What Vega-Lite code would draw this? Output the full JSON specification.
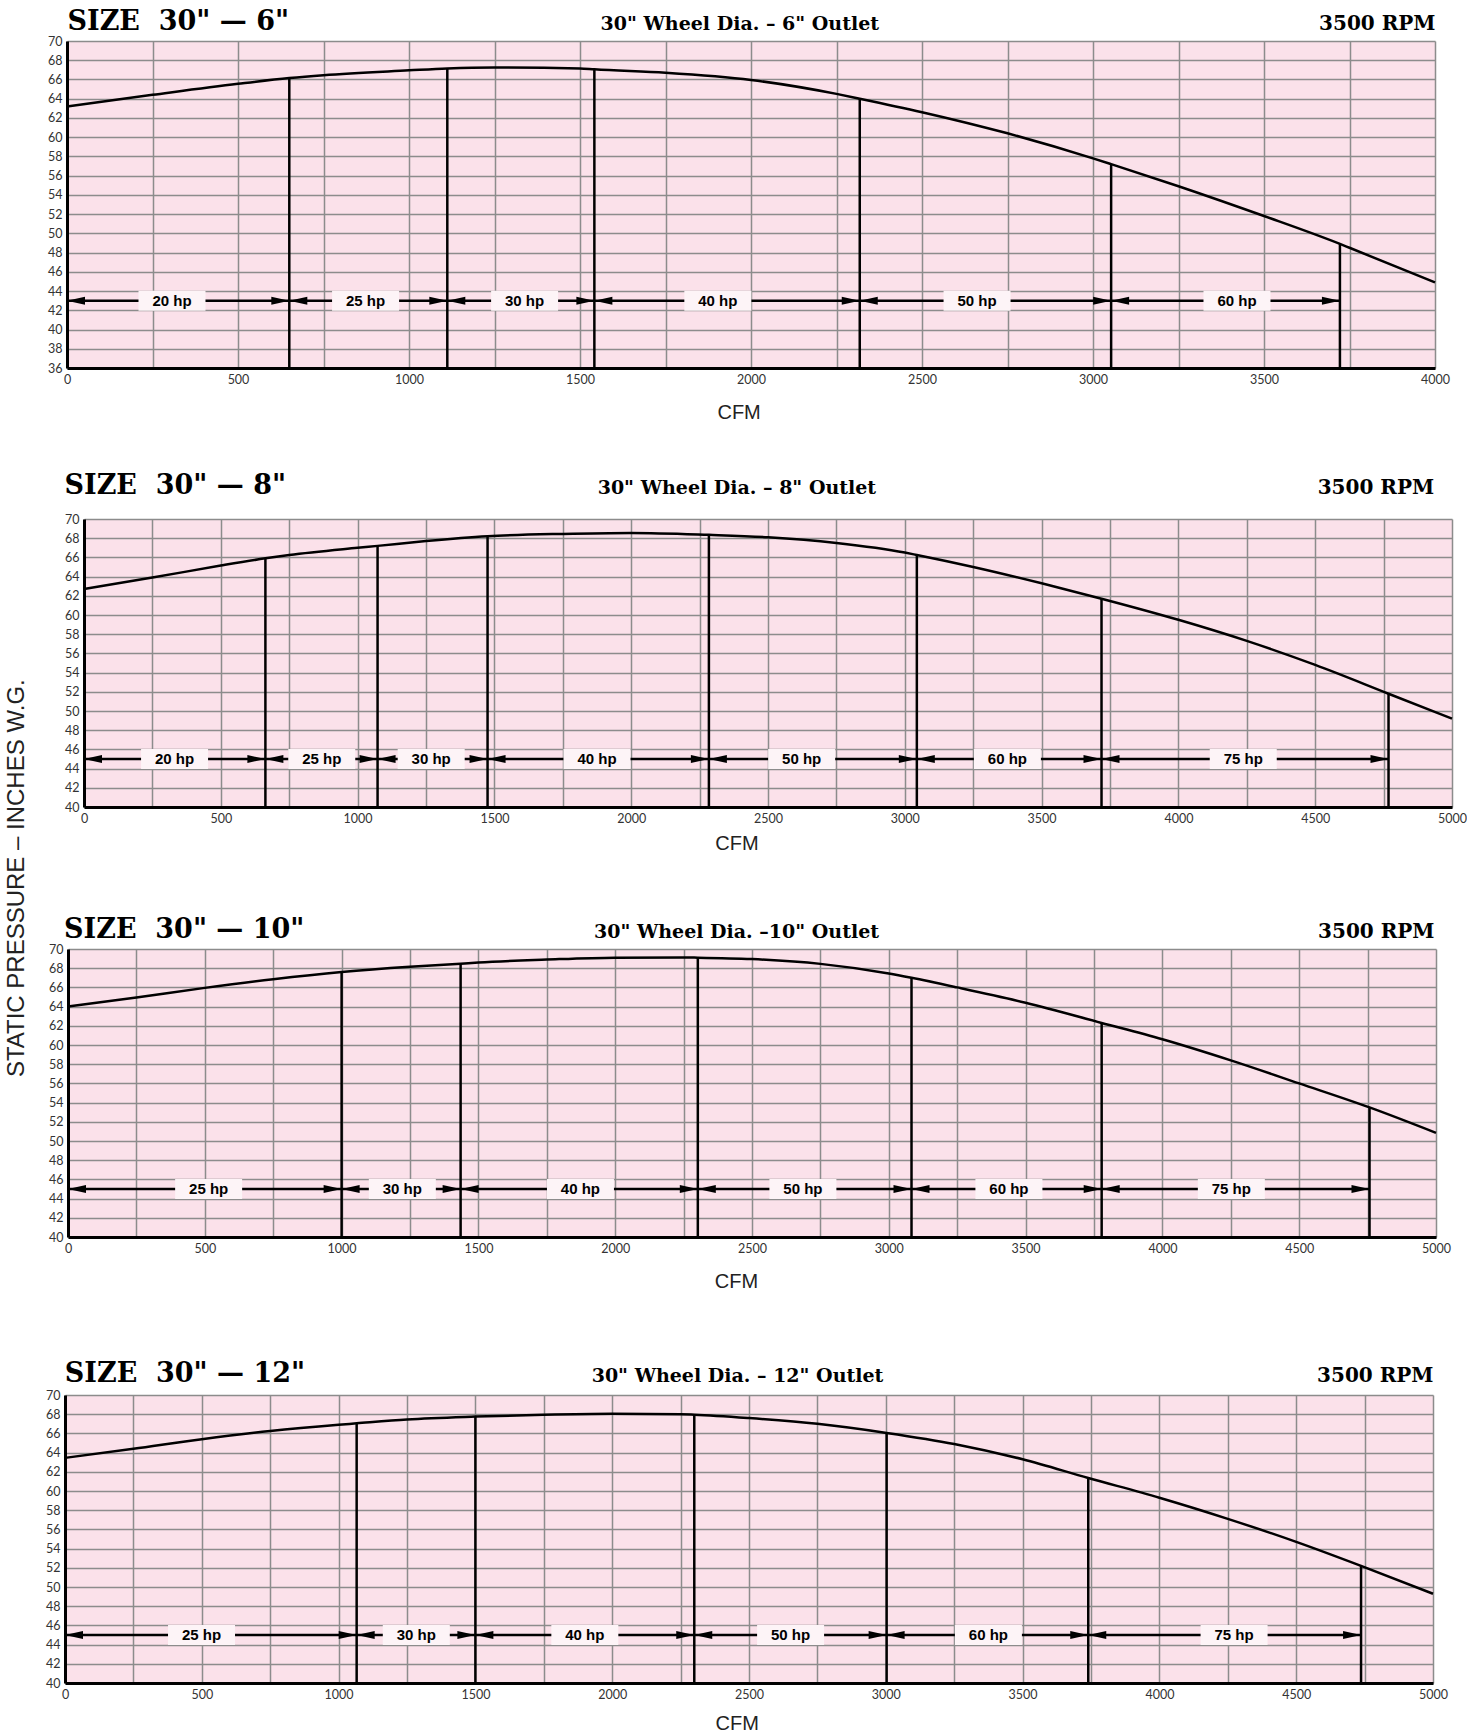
{
  "$schema": "https://vega.github.io/schema/vega-lite/v6.json",
  "background": "white",
  "padding": {"left": 4, "top": 0, "right": 0, "bottom": 0},
  "title": {"text": "STATIC PRESSURE – INCHES W.G.", "orient": "left", "anchor": "middle", "font": "Liberation Sans", "fontSize": 24, "fontWeight": "normal", "color": "#222222", "offset": 13},
  "spacing": 0,
  "datasets": {
    "c1": [{"cfm":0,"sp":63.2},{"cfm":250,"sp":64.4},{"cfm":500,"sp":65.55},{"cfm":650,"sp":66.15},{"cfm":750,"sp":66.45},{"cfm":1000,"sp":66.95},{"cfm":1112,"sp":67.15},{"cfm":1250,"sp":67.25},{"cfm":1500,"sp":67.15},{"cfm":1542,"sp":67.05},{"cfm":1750,"sp":66.7},{"cfm":2000,"sp":65.95},{"cfm":2250,"sp":64.5},{"cfm":2318,"sp":64.0},{"cfm":2500,"sp":62.6},{"cfm":2750,"sp":60.4},{"cfm":3000,"sp":57.8},{"cfm":3053,"sp":57.2},{"cfm":3250,"sp":54.9},{"cfm":3500,"sp":51.8},{"cfm":3722,"sp":48.9},{"cfm":3750,"sp":48.5},{"cfm":4000,"sp":44.9}],
    "r1": [{"cfm":650,"sp":66.15},{"cfm":1112,"sp":67.15},{"cfm":1542,"sp":67.05},{"cfm":2318,"sp":64.0},{"cfm":3053,"sp":57.2},{"cfm":3722,"sp":48.9}],
    "a1": [{"from":0,"to":650,"hp":"20 hp","lx":307},{"from":650,"to":1112,"hp":"25 hp","lx":873},{"from":1112,"to":1542,"hp":"30 hp","lx":1338},{"from":1542,"to":2318,"hp":"40 hp","lx":1903},{"from":2318,"to":3053,"hp":"50 hp","lx":2661},{"from":3053,"to":3722,"hp":"60 hp","lx":3421}],
    "c2": [{"cfm":0,"sp":62.7},{"cfm":250,"sp":63.9},{"cfm":500,"sp":65.15},{"cfm":663,"sp":65.9},{"cfm":750,"sp":66.25},{"cfm":1000,"sp":67.0},{"cfm":1073,"sp":67.2},{"cfm":1250,"sp":67.7},{"cfm":1475,"sp":68.2},{"cfm":1750,"sp":68.45},{"cfm":2000,"sp":68.55},{"cfm":2284,"sp":68.35},{"cfm":2500,"sp":68.1},{"cfm":2750,"sp":67.5},{"cfm":3000,"sp":66.5},{"cfm":3044,"sp":66.25},{"cfm":3250,"sp":65.0},{"cfm":3500,"sp":63.3},{"cfm":3719,"sp":61.7},{"cfm":4000,"sp":59.5},{"cfm":4250,"sp":57.3},{"cfm":4500,"sp":54.8},{"cfm":4768,"sp":51.8},{"cfm":5000,"sp":49.2}],
    "r2": [{"cfm":663,"sp":65.9},{"cfm":1073,"sp":67.2},{"cfm":1475,"sp":68.2},{"cfm":2284,"sp":68.35},{"cfm":3044,"sp":66.25},{"cfm":3719,"sp":61.7},{"cfm":4768,"sp":51.8}],
    "a2": [{"from":0,"to":663,"hp":"20 hp","lx":331},{"from":663,"to":1073,"hp":"25 hp","lx":869},{"from":1073,"to":1475,"hp":"30 hp","lx":1269},{"from":1475,"to":2284,"hp":"40 hp","lx":1875},{"from":2284,"to":3044,"hp":"50 hp","lx":2623},{"from":3044,"to":3719,"hp":"60 hp","lx":3375},{"from":3719,"to":4768,"hp":"75 hp","lx":4237}],
    "c3": [{"cfm":0,"sp":64.0},{"cfm":250,"sp":64.95},{"cfm":500,"sp":65.95},{"cfm":750,"sp":66.85},{"cfm":1000,"sp":67.6},{"cfm":1250,"sp":68.15},{"cfm":1435,"sp":68.47},{"cfm":1500,"sp":68.6},{"cfm":1750,"sp":68.9},{"cfm":2000,"sp":69.1},{"cfm":2250,"sp":69.12},{"cfm":2302,"sp":69.1},{"cfm":2500,"sp":68.95},{"cfm":2750,"sp":68.45},{"cfm":3000,"sp":67.45},{"cfm":3083,"sp":67.0},{"cfm":3250,"sp":66.0},{"cfm":3500,"sp":64.4},{"cfm":3778,"sp":62.3},{"cfm":4000,"sp":60.6},{"cfm":4250,"sp":58.4},{"cfm":4500,"sp":56.0},{"cfm":4757,"sp":53.5},{"cfm":5000,"sp":50.85}],
    "r3": [{"cfm":1000,"sp":67.6},{"cfm":1435,"sp":68.47},{"cfm":2302,"sp":69.1},{"cfm":3083,"sp":67.0},{"cfm":3778,"sp":62.3},{"cfm":4757,"sp":53.5}],
    "a3": [{"from":0,"to":1000,"hp":"25 hp","lx":514},{"from":1000,"to":1435,"hp":"30 hp","lx":1222},{"from":1435,"to":2302,"hp":"40 hp","lx":1873},{"from":2302,"to":3083,"hp":"50 hp","lx":2686},{"from":3083,"to":3778,"hp":"60 hp","lx":3439},{"from":3778,"to":4757,"hp":"75 hp","lx":4252}],
    "c4": [{"cfm":0,"sp":63.45},{"cfm":250,"sp":64.4},{"cfm":500,"sp":65.4},{"cfm":750,"sp":66.25},{"cfm":1000,"sp":66.9},{"cfm":1066,"sp":67.05},{"cfm":1250,"sp":67.45},{"cfm":1500,"sp":67.75},{"cfm":1750,"sp":67.95},{"cfm":2000,"sp":68.05},{"cfm":2250,"sp":68.0},{"cfm":2300,"sp":67.95},{"cfm":2500,"sp":67.6},{"cfm":2750,"sp":67.0},{"cfm":3003,"sp":66.05},{"cfm":3250,"sp":64.9},{"cfm":3500,"sp":63.3},{"cfm":3740,"sp":61.35},{"cfm":4000,"sp":59.3},{"cfm":4250,"sp":57.1},{"cfm":4500,"sp":54.7},{"cfm":4737,"sp":52.2},{"cfm":5000,"sp":49.3}],
    "r4": [{"cfm":1066,"sp":67.05},{"cfm":1500,"sp":67.75},{"cfm":2300,"sp":67.95},{"cfm":3003,"sp":66.05},{"cfm":3740,"sp":61.35},{"cfm":4737,"sp":52.2}],
    "a4": [{"from":0,"to":1066,"hp":"25 hp","lx":499},{"from":1066,"to":1500,"hp":"30 hp","lx":1284},{"from":1500,"to":2300,"hp":"40 hp","lx":1900},{"from":2300,"to":3003,"hp":"50 hp","lx":2652},{"from":3003,"to":3740,"hp":"60 hp","lx":3375},{"from":3740,"to":4737,"hp":"75 hp","lx":4273}]
  },
  "vconcat": [
    {"spacing": 0, "hconcat": [
      {"width": 4.9, "height": 1, "view": {"fill": null, "stroke": null}, "data": {"values": []}, "mark": {"type": "point", "opacity": 0}, "encoding": {}},
      {
      "width": 1368, "height": 327,
      "layer": [
        {"data": {"name": "c1"}, "mark": {"type": "line", "color": "black", "strokeWidth": 2.5, "interpolate": "monotone"},
         "encoding": {
           "x": {"field": "cfm", "type": "quantitative", "scale": {"domain": [0, 4000], "nice": false, "zero": false},
             "axis": {"orient": "bottom", "values": [0,250,500,750,1000,1250,1500,1750,2000,2250,2500,2750,3000,3250,3500,3750,4000], "format": "d", "labelExpr": "datum.value % 500 === 0 ? datum.label : ''", "grid": true, "title": "CFM", "titleFont": "Liberation Sans", "titleFontSize": 20, "titleFontWeight": "normal", "titleColor": "#222222", "titleAlign": "center", "titleX": 671.6, "titleY": 50.6, "minExtent": 90.1, "maxExtent": 90.1}},
           "y": {"field": "sp", "type": "quantitative", "scale": {"domain": [36, 70], "nice": false, "zero": false},
             "axis": {"orient": "left", "values": [36,38,40,42,44,46,48,50,52,54,56,58,60,62,64,66,68,70], "format": "d", "grid": true, "title": "SIZE\u00a0\u00a030\" — 6\"", "titleAlign": "left", "titleX": 0, "titleY": -11.4, "minExtent": 20, "maxExtent": 20}}
         }},
        {"data": {"name": "r1"}, "mark": {"type": "rule", "color": "black", "strokeWidth": 2.5},
         "encoding": {"x": {"field": "cfm", "type": "quantitative", "axis": null}, "y": {"field": "sp", "type": "quantitative", "axis": null}, "y2": {"datum": 36}}},
        {"data": {"name": "a1"}, "mark": {"type": "rule", "color": "black", "strokeWidth": 2.5},
         "encoding": {"x": {"field": "from", "type": "quantitative", "axis": null}, "x2": {"field": "to"}, "y": {"datum": 43, "type": "quantitative", "axis": null}}},
        {"data": {"name": "a1"}, "mark": {"type": "point", "shape": "M0,0L1,-0.22L1,0.22Z", "size": 1296, "filled": true, "color": "black", "opacity": 1, "strokeWidth": 0},
         "encoding": {"x": {"field": "from", "type": "quantitative", "axis": null}, "y": {"datum": 43, "type": "quantitative", "axis": null}}},
        {"data": {"name": "a1"}, "mark": {"type": "point", "shape": "M0,0L-1,-0.22L-1,0.22Z", "size": 1296, "filled": true, "color": "black", "opacity": 1, "strokeWidth": 0},
         "encoding": {"x": {"field": "to", "type": "quantitative", "axis": null}, "y": {"datum": 43, "type": "quantitative", "axis": null}}},
        {"data": {"name": "a1"}, "mark": {"type": "point", "shape": "M-1,-0.3L1,-0.3L1,0.3L-1,0.3Z", "size": 4489, "filled": true, "color": "#fdf4f7", "opacity": 1, "strokeWidth": 0},
         "encoding": {"x": {"field": "lx", "type": "quantitative", "axis": null}, "y": {"datum": 43, "type": "quantitative", "axis": null}}},
        {"data": {"name": "a1"}, "mark": {"type": "text", "font": "Liberation Sans", "fontWeight": "bold", "fontSize": 15, "color": "black", "baseline": "middle", "align": "center"},
         "encoding": {"x": {"field": "lx", "type": "quantitative", "axis": null}, "y": {"datum": 43, "type": "quantitative", "axis": null}, "text": {"field": "hp"}}},
        {"data": {"name": "r1"}, "mark": {"type": "point", "opacity": 0},
         "encoding": {
           "x": {"field": "cfm", "type": "quantitative", "axis": {"orient": "top", "labels": false, "domain": false, "grid": false, "title": "30\" Wheel Dia. – 6\" Outlet", "titleFontSize": 19, "titleAlign": "center", "titleX": 672.3, "titleY": -11.4, "minExtent": 40.7, "maxExtent": 40.7}},
           "y": {"field": "sp", "type": "quantitative", "axis": {"orient": "right", "labels": false, "domain": false, "grid": false, "title": "3500 RPM", "titleFontSize": 20, "titleAlign": "right", "titleX": 0, "titleY": -11.4}}
         }}
      ]
    }]},
    {"spacing": 0, "hconcat": [
      {"width": 21.5, "height": 1, "view": {"fill": null, "stroke": null}, "data": {"values": []}, "mark": {"type": "point", "opacity": 0}, "encoding": {}},
      {
      "width": 1368, "height": 288,
      "layer": [
        {"data": {"name": "c2"}, "mark": {"type": "line", "color": "black", "strokeWidth": 2.5, "interpolate": "monotone"},
         "encoding": {
           "x": {"field": "cfm", "type": "quantitative", "scale": {"domain": [0, 5000], "nice": false, "zero": false},
             "axis": {"orient": "bottom", "values": [0,250,500,750,1000,1250,1500,1750,2000,2250,2500,2750,3000,3250,3500,3750,4000,4250,4500,4750,5000], "format": "d", "labelExpr": "datum.value % 500 === 0 ? datum.label : ''", "grid": true, "title": "CFM", "titleFont": "Liberation Sans", "titleFontSize": 20, "titleFontWeight": "normal", "titleColor": "#222222", "titleAlign": "center", "titleX": 652.4, "titleY": 42.5, "minExtent": 81.3, "maxExtent": 81.3}},
           "y": {"field": "sp", "type": "quantitative", "scale": {"domain": [40, 70], "nice": false, "zero": false},
             "axis": {"orient": "left", "values": [40,42,44,46,48,50,52,54,56,58,60,62,64,66,68,70], "format": "d", "grid": true, "title": "SIZE\u00a0\u00a030\" — 8\"", "titleAlign": "left", "titleX": -20, "titleY": -25.7, "minExtent": 20, "maxExtent": 20}}
         }},
        {"data": {"name": "r2"}, "mark": {"type": "rule", "color": "black", "strokeWidth": 2.5},
         "encoding": {"x": {"field": "cfm", "type": "quantitative", "axis": null}, "y": {"field": "sp", "type": "quantitative", "axis": null}, "y2": {"datum": 40}}},
        {"data": {"name": "a2"}, "mark": {"type": "rule", "color": "black", "strokeWidth": 2.5},
         "encoding": {"x": {"field": "from", "type": "quantitative", "axis": null}, "x2": {"field": "to"}, "y": {"datum": 45, "type": "quantitative", "axis": null}}},
        {"data": {"name": "a2"}, "mark": {"type": "point", "shape": "M0,0L1,-0.22L1,0.22Z", "size": 1296, "filled": true, "color": "black", "opacity": 1, "strokeWidth": 0},
         "encoding": {"x": {"field": "from", "type": "quantitative", "axis": null}, "y": {"datum": 45, "type": "quantitative", "axis": null}}},
        {"data": {"name": "a2"}, "mark": {"type": "point", "shape": "M0,0L-1,-0.22L-1,0.22Z", "size": 1296, "filled": true, "color": "black", "opacity": 1, "strokeWidth": 0},
         "encoding": {"x": {"field": "to", "type": "quantitative", "axis": null}, "y": {"datum": 45, "type": "quantitative", "axis": null}}},
        {"data": {"name": "a2"}, "mark": {"type": "point", "shape": "M-1,-0.3L1,-0.3L1,0.3L-1,0.3Z", "size": 4489, "filled": true, "color": "#fdf4f7", "opacity": 1, "strokeWidth": 0},
         "encoding": {"x": {"field": "lx", "type": "quantitative", "axis": null}, "y": {"datum": 45, "type": "quantitative", "axis": null}}},
        {"data": {"name": "a2"}, "mark": {"type": "text", "font": "Liberation Sans", "fontWeight": "bold", "fontSize": 15, "color": "black", "baseline": "middle", "align": "center"},
         "encoding": {"x": {"field": "lx", "type": "quantitative", "axis": null}, "y": {"datum": 45, "type": "quantitative", "axis": null}, "text": {"field": "hp"}}},
        {"data": {"name": "r2"}, "mark": {"type": "point", "opacity": 0},
         "encoding": {
           "x": {"field": "cfm", "type": "quantitative", "axis": {"orient": "top", "labels": false, "domain": false, "grid": false, "title": "30\" Wheel Dia. – 8\" Outlet", "titleFontSize": 19, "titleAlign": "center", "titleX": 652.4, "titleY": -25.7, "minExtent": 60, "maxExtent": 60}},
           "y": {"field": "sp", "type": "quantitative", "axis": {"orient": "right", "labels": false, "domain": false, "grid": false, "title": "3500 RPM", "titleFontSize": 20, "titleAlign": "right", "titleX": -18.4, "titleY": -25.7}}
         }}
      ]
    }]},
    {"spacing": 0, "hconcat": [
      {"width": 5.9, "height": 1, "view": {"fill": null, "stroke": null}, "data": {"values": []}, "mark": {"type": "point", "opacity": 0}, "encoding": {}},
      {
      "width": 1368, "height": 288,
      "layer": [
        {"data": {"name": "c3"}, "mark": {"type": "line", "color": "black", "strokeWidth": 2.5, "interpolate": "monotone"},
         "encoding": {
           "x": {"field": "cfm", "type": "quantitative", "scale": {"domain": [0, 5000], "nice": false, "zero": false},
             "axis": {"orient": "bottom", "values": [0,250,500,750,1000,1250,1500,1750,2000,2250,2500,2750,3000,3250,3500,3750,4000,4250,4500,4750,5000], "format": "d", "labelExpr": "datum.value % 500 === 0 ? datum.label : ''", "grid": true, "title": "CFM", "titleFont": "Liberation Sans", "titleFontSize": 20, "titleFontWeight": "normal", "titleColor": "#222222", "titleAlign": "center", "titleX": 668, "titleY": 50.2, "minExtent": 97.8, "maxExtent": 97.8}},
           "y": {"field": "sp", "type": "quantitative", "scale": {"domain": [40, 70], "nice": false, "zero": false},
             "axis": {"orient": "left", "values": [40,42,44,46,48,50,52,54,56,58,60,62,64,66,68,70], "format": "d", "grid": true, "title": "SIZE\u00a0\u00a030\" — 10\"", "titleAlign": "left", "titleX": -4.4, "titleY": -11.6, "minExtent": 20, "maxExtent": 20}}
         }},
        {"data": {"name": "r3"}, "mark": {"type": "rule", "color": "black", "strokeWidth": 2.5},
         "encoding": {"x": {"field": "cfm", "type": "quantitative", "axis": null}, "y": {"field": "sp", "type": "quantitative", "axis": null}, "y2": {"datum": 40}}},
        {"data": {"name": "a3"}, "mark": {"type": "rule", "color": "black", "strokeWidth": 2.5},
         "encoding": {"x": {"field": "from", "type": "quantitative", "axis": null}, "x2": {"field": "to"}, "y": {"datum": 45, "type": "quantitative", "axis": null}}},
        {"data": {"name": "a3"}, "mark": {"type": "point", "shape": "M0,0L1,-0.22L1,0.22Z", "size": 1296, "filled": true, "color": "black", "opacity": 1, "strokeWidth": 0},
         "encoding": {"x": {"field": "from", "type": "quantitative", "axis": null}, "y": {"datum": 45, "type": "quantitative", "axis": null}}},
        {"data": {"name": "a3"}, "mark": {"type": "point", "shape": "M0,0L-1,-0.22L-1,0.22Z", "size": 1296, "filled": true, "color": "black", "opacity": 1, "strokeWidth": 0},
         "encoding": {"x": {"field": "to", "type": "quantitative", "axis": null}, "y": {"datum": 45, "type": "quantitative", "axis": null}}},
        {"data": {"name": "a3"}, "mark": {"type": "point", "shape": "M-1,-0.3L1,-0.3L1,0.3L-1,0.3Z", "size": 4489, "filled": true, "color": "#fdf4f7", "opacity": 1, "strokeWidth": 0},
         "encoding": {"x": {"field": "lx", "type": "quantitative", "axis": null}, "y": {"datum": 45, "type": "quantitative", "axis": null}}},
        {"data": {"name": "a3"}, "mark": {"type": "text", "font": "Liberation Sans", "fontWeight": "bold", "fontSize": 15, "color": "black", "baseline": "middle", "align": "center"},
         "encoding": {"x": {"field": "lx", "type": "quantitative", "axis": null}, "y": {"datum": 45, "type": "quantitative", "axis": null}, "text": {"field": "hp"}}},
        {"data": {"name": "r3"}, "mark": {"type": "point", "opacity": 0},
         "encoding": {
           "x": {"field": "cfm", "type": "quantitative", "axis": {"orient": "top", "labels": false, "domain": false, "grid": false, "title": "30\" Wheel Dia. –10\" Outlet", "titleFontSize": 19, "titleAlign": "center", "titleX": 668, "titleY": -11.6, "minExtent": 60, "maxExtent": 60}},
           "y": {"field": "sp", "type": "quantitative", "axis": {"orient": "right", "labels": false, "domain": false, "grid": false, "title": "3500 RPM", "titleFontSize": 20, "titleAlign": "right", "titleX": -2, "titleY": -11.6}}
         }}
      ]
    }]},
    {"spacing": 0, "hconcat": [
      {"width": 2.2, "height": 1, "view": {"fill": null, "stroke": null}, "data": {"values": []}, "mark": {"type": "point", "opacity": 0}, "encoding": {}},
      {
      "width": 1368, "height": 288,
      "layer": [
        {"data": {"name": "c4"}, "mark": {"type": "line", "color": "black", "strokeWidth": 2.5, "interpolate": "monotone"},
         "encoding": {
           "x": {"field": "cfm", "type": "quantitative", "scale": {"domain": [0, 5000], "nice": false, "zero": false},
             "axis": {"orient": "bottom", "values": [0,250,500,750,1000,1250,1500,1750,2000,2250,2500,2750,3000,3250,3500,3750,4000,4250,4500,4750,5000], "format": "d", "labelExpr": "datum.value % 500 === 0 ? datum.label : ''", "grid": true, "title": "CFM", "titleFont": "Liberation Sans", "titleFontSize": 20, "titleFontWeight": "normal", "titleColor": "#222222", "titleAlign": "center", "titleX": 671.7, "titleY": 46.3, "minExtent": 73.1, "maxExtent": 73.1}},
           "y": {"field": "sp", "type": "quantitative", "scale": {"domain": [40, 70], "nice": false, "zero": false},
             "axis": {"orient": "left", "values": [40,42,44,46,48,50,52,54,56,58,60,62,64,66,68,70], "format": "d", "grid": true, "title": "SIZE\u00a0\u00a030\" — 12\"", "titleAlign": "left", "titleX": -0.7, "titleY": -14, "minExtent": 20, "maxExtent": 20}}
         }},
        {"data": {"name": "r4"}, "mark": {"type": "rule", "color": "black", "strokeWidth": 2.5},
         "encoding": {"x": {"field": "cfm", "type": "quantitative", "axis": null}, "y": {"field": "sp", "type": "quantitative", "axis": null}, "y2": {"datum": 40}}},
        {"data": {"name": "a4"}, "mark": {"type": "rule", "color": "black", "strokeWidth": 2.5},
         "encoding": {"x": {"field": "from", "type": "quantitative", "axis": null}, "x2": {"field": "to"}, "y": {"datum": 45, "type": "quantitative", "axis": null}}},
        {"data": {"name": "a4"}, "mark": {"type": "point", "shape": "M0,0L1,-0.22L1,0.22Z", "size": 1296, "filled": true, "color": "black", "opacity": 1, "strokeWidth": 0},
         "encoding": {"x": {"field": "from", "type": "quantitative", "axis": null}, "y": {"datum": 45, "type": "quantitative", "axis": null}}},
        {"data": {"name": "a4"}, "mark": {"type": "point", "shape": "M0,0L-1,-0.22L-1,0.22Z", "size": 1296, "filled": true, "color": "black", "opacity": 1, "strokeWidth": 0},
         "encoding": {"x": {"field": "to", "type": "quantitative", "axis": null}, "y": {"datum": 45, "type": "quantitative", "axis": null}}},
        {"data": {"name": "a4"}, "mark": {"type": "point", "shape": "M-1,-0.3L1,-0.3L1,0.3L-1,0.3Z", "size": 4489, "filled": true, "color": "#fdf4f7", "opacity": 1, "strokeWidth": 0},
         "encoding": {"x": {"field": "lx", "type": "quantitative", "axis": null}, "y": {"datum": 45, "type": "quantitative", "axis": null}}},
        {"data": {"name": "a4"}, "mark": {"type": "text", "font": "Liberation Sans", "fontWeight": "bold", "fontSize": 15, "color": "black", "baseline": "middle", "align": "center"},
         "encoding": {"x": {"field": "lx", "type": "quantitative", "axis": null}, "y": {"datum": 45, "type": "quantitative", "axis": null}, "text": {"field": "hp"}}},
        {"data": {"name": "r4"}, "mark": {"type": "point", "opacity": 0},
         "encoding": {
           "x": {"field": "cfm", "type": "quantitative", "axis": {"orient": "top", "labels": false, "domain": false, "grid": false, "title": "30\" Wheel Dia. – 12\" Outlet", "titleFontSize": 19, "titleAlign": "center", "titleX": 672, "titleY": -14, "minExtent": 60, "maxExtent": 60}},
           "y": {"field": "sp", "type": "quantitative", "axis": {"orient": "right", "labels": false, "domain": false, "grid": false, "title": "3500 RPM", "titleFontSize": 20, "titleAlign": "right", "titleX": 0, "titleY": -14}}
         }}
      ]
    }]}
  ],
  "config": {
    "view": {"fill": "#fbe1ea", "stroke": null},
    "axis": {"ticks": false, "domainColor": "black", "domainWidth": 3, "gridColor": "#8c8c8c", "gridWidth": 1.5, "gridOpacity": 1, "labelFont": "Lato", "labelFontSize": 12.5, "labelColor": "#333333", "labelPadding": 5, "labelFlush": false, "labelOverlap": false, "labelBound": false, "titleFont": "DejaVu Serif", "titleFontWeight": "bold", "titleColor": "black", "titleFontSize": 27, "titleBaseline": "alphabetic", "titleAngle": 0}
  }
}
